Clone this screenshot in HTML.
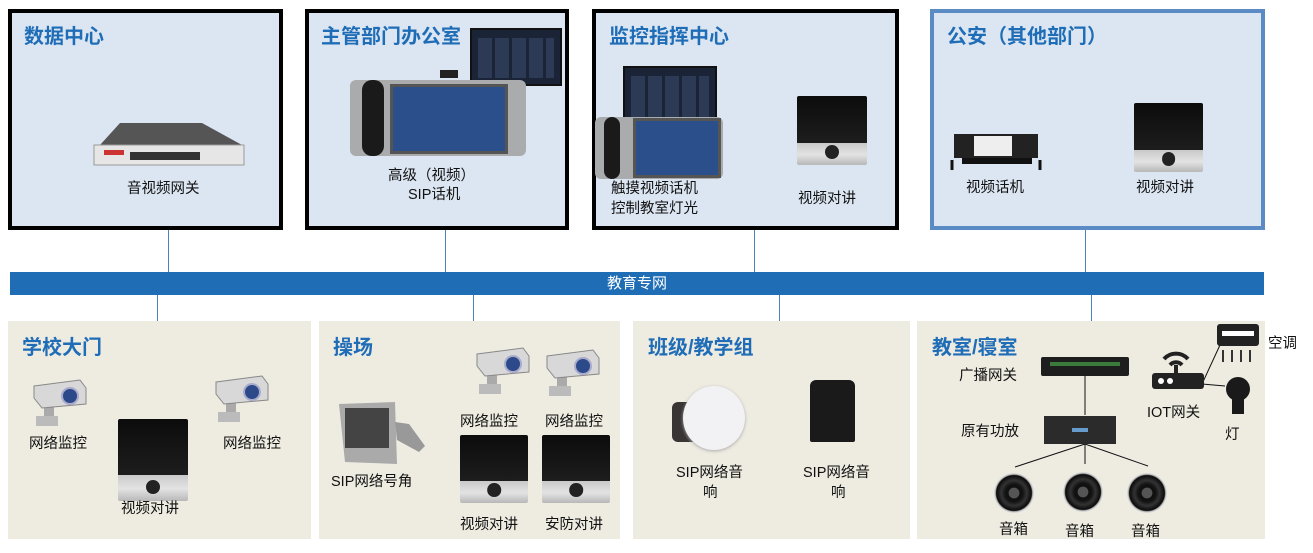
<!DOCTYPE html>
<html><head><meta charset="utf-8"><style>
body{margin:0;width:1313px;height:553px;background:#fff;position:relative;overflow:hidden;font-family:"Liberation Sans","Noto Sans CJK SC",sans-serif;}
.a{position:absolute;}
.tb{position:absolute;background:#dce6f2;border:4px solid #000;box-sizing:border-box;}
.bb{position:absolute;background:#eeebe1;}
.t{position:absolute;color:#1f6db7;font-weight:bold;font-size:20px;white-space:nowrap;}
.l{position:absolute;font-size:14.5px;color:#111;white-space:nowrap;line-height:18px;}
.v{position:absolute;width:1px;background:#4f81bd;}
.ic{position:absolute;border-radius:2px;background:linear-gradient(#0c0c0c 0,#1d1d1d 68%,#c9c9c9 68%,#e3e3e3 85%,#b8b8b8 100%);}
.ic:after{content:"";position:absolute;left:50%;bottom:9%;width:20%;aspect-ratio:1;transform:translateX(-50%);background:#222;border-radius:50%;}
.cam{position:absolute;width:58px;height:50px;}
.scr{position:absolute;background:#1b2436;border:2px solid #111;}
.scr:before{content:"";position:absolute;inset:8px 6px 6px 6px;background:repeating-linear-gradient(90deg,#2c3a55 0 14px,#1b2436 14px 17px);}
.phone{position:absolute;background:#a9abad;border-radius:6px;}
.phone .s{position:absolute;background:#2a4f8a;border:3px solid #555;}
.phone .h{position:absolute;background:#1a1a1a;border-radius:10px;}
.spk{position:absolute;width:40px;height:40px;border-radius:50%;background:radial-gradient(circle,#555 0 18%,#111 20% 30%,#333 45%,#0a0a0a 62%,#bbb 66%,#eee 72%,#999 100%);}
</style></head><body>

<div class="tb" style="left:8px;top:9px;width:275px;height:221px"></div>
<div class="tb" style="left:305px;top:9px;width:264px;height:221px"></div>
<div class="tb" style="left:592px;top:9px;width:307px;height:221px"></div>
<div class="tb" style="left:930px;top:9px;width:335px;height:221px;border-color:#5b8bc4"></div>

<div class="t" style="left:24px;top:20px">数据中心</div>
<div class="t" style="left:321px;top:20px">主管部门办公室</div>
<div class="t" style="left:609px;top:20px">监控指挥中心</div>
<div class="t" style="left:947px;top:20px">公安（其他部门）</div>

<svg class="a" style="left:90px;top:120px" width="160" height="50"><polygon points="10,25 30,3 112,3 152,25" fill="#555"/><rect x="4" y="25" width="150" height="20" fill="#e6e6e6" stroke="#999"/><rect x="40" y="32" width="70" height="8" fill="#333"/><rect x="14" y="30" width="20" height="5" fill="#c33"/></svg>
<div class="l" style="left:127px;top:180px">音视频网关</div>

<div class="scr" style="left:470px;top:28px;width:88px;height:54px"></div>
<div class="a" style="left:440px;top:70px;width:18px;height:8px;background:#222"></div>
<div class="phone" style="left:350px;top:80px;width:176px;height:76px"><div class="s" style="left:40px;top:4px;width:112px;height:64px"></div><div class="h" style="left:12px;top:0;width:22px;height:76px"></div></div>
<div class="l" style="left:388px;top:167px">高级（视频）</div>
<div class="l" style="left:408px;top:186px">SIP话机</div>

<div class="scr" style="left:623px;top:66px;width:90px;height:70px"></div>
<div class="phone" style="left:595px;top:117px;width:128px;height:62px"><div class="s" style="left:38px;top:1px;width:82px;height:54px"></div><div class="h" style="left:9px;top:0;width:16px;height:62px"></div></div>
<div class="l" style="left:611px;top:180px">触摸视频话机</div>
<div class="l" style="left:611px;top:200px">控制教室灯光</div>
<div class="ic" style="left:797px;top:96px;width:70px;height:69px"></div>
<div class="l" style="left:798px;top:190px">视频对讲</div>

<svg class="a" style="left:948px;top:130px" width="96" height="42"><rect x="6" y="4" width="84" height="24" fill="#222"/><rect x="26" y="6" width="38" height="20" fill="#eee"/><rect x="14" y="28" width="70" height="6" fill="#111"/><path d="M4 30 v10 M92 30 v10" stroke="#111" stroke-width="3"/></svg>
<div class="l" style="left:966px;top:179px">视频话机</div>
<div class="ic" style="left:1134px;top:103px;width:69px;height:69px"></div>
<div class="l" style="left:1136px;top:179px">视频对讲</div>

<div class="v" style="left:168px;top:230px;height:42px"></div>
<div class="v" style="left:445px;top:230px;height:42px"></div>
<div class="v" style="left:754px;top:230px;height:42px"></div>
<div class="v" style="left:1085px;top:230px;height:42px"></div>
<div class="a" style="left:10px;top:272px;width:1254px;height:23px;background:#1f6db5;color:#fff;font-size:15px;text-align:center;line-height:23px">教育专网</div>
<div class="v" style="left:157px;top:295px;height:26px"></div>
<div class="v" style="left:473px;top:295px;height:26px"></div>
<div class="v" style="left:779px;top:295px;height:26px"></div>
<div class="v" style="left:1091px;top:295px;height:26px"></div>

<div class="bb" style="left:8px;top:321px;width:303px;height:218px"></div>
<div class="bb" style="left:319px;top:321px;width:301px;height:218px"></div>
<div class="bb" style="left:633px;top:321px;width:277px;height:218px"></div>
<div class="bb" style="left:917px;top:321px;width:348px;height:218px"></div>

<div class="t" style="left:22px;top:331px">学校大门</div>
<div class="t" style="left:333px;top:331px">操场</div>
<div class="t" style="left:648px;top:331px">班级/教学组</div>
<div class="t" style="left:932px;top:331px">教室/寝室</div>

<svg width="0" height="0" style="position:absolute"><defs><g id="cm"><rect x="14" y="24" width="10" height="20" fill="#aaa"/><rect x="6" y="38" width="22" height="10" fill="#bbb"/><polygon points="4,8 50,2 56,10 56,26 12,30 4,20" fill="#d8d8d8" stroke="#888"/><circle cx="40" cy="18" r="8" fill="#2c4a8a" stroke="#aac" stroke-width="2"/></g></defs></svg>
<svg class="cam" style="left:30px;top:378px"><use href="#cm"/></svg>
<svg class="cam" style="left:212px;top:374px"><use href="#cm"/></svg>
<svg class="cam" style="left:473px;top:346px"><use href="#cm"/></svg>
<svg class="cam" style="left:543px;top:348px"><use href="#cm"/></svg>
<div class="l" style="left:29px;top:435px">网络监控</div>
<div class="l" style="left:223px;top:435px">网络监控</div>
<div class="ic" style="left:118px;top:419px;width:70px;height:82px"></div>
<div class="l" style="left:121px;top:500px">视频对讲</div>

<svg class="a" style="left:335px;top:400px" width="92" height="68"><polygon points="4,4 60,2 62,64 10,62" fill="#aaa"/><rect x="10" y="8" width="44" height="40" fill="#444"/><polygon points="60,22 74,24 90,46 84,52 62,40" fill="#999"/></svg>
<div class="l" style="left:331px;top:473px">SIP网络号角</div>
<div class="l" style="left:460px;top:413px">网络监控</div>
<div class="l" style="left:545px;top:413px">网络监控</div>
<div class="ic" style="left:460px;top:435px;width:68px;height:68px"></div>
<div class="ic" style="left:542px;top:435px;width:68px;height:68px"></div>
<div class="l" style="left:460px;top:516px">视频对讲</div>
<div class="l" style="left:545px;top:516px">安防对讲</div>

<div class="a" style="left:672px;top:402px;width:30px;height:40px;background:#3a3535;border-radius:6px"></div>
<div class="a" style="left:683px;top:386px;width:62px;height:64px;border-radius:50%;background:#f2f2f4;box-shadow:0 1px 3px #aaa"></div>
<div class="a" style="left:810px;top:380px;width:45px;height:62px;background:#1a1a1a;border-radius:6px 6px 2px 2px"></div>
<div class="l" style="left:676px;top:464px">SIP网络音</div>
<div class="l" style="left:703px;top:484px">响</div>
<div class="l" style="left:803px;top:464px">SIP网络音</div>
<div class="l" style="left:831px;top:484px">响</div>

<div class="a" style="left:1041px;top:357px;width:88px;height:19px;background:#1e1e1e;border-radius:2px"></div>
<div class="a" style="left:1050px;top:362px;width:70px;height:4px;background:#3a7a3a"></div>
<div class="l" style="left:959px;top:367px">广播网关</div>
<svg class="a" style="left:900px;top:300px" width="413" height="253">
<line x1="185" y1="76" x2="185" y2="115" stroke="#111" stroke-width="1"/>
<line x1="185" y1="144" x2="115" y2="167" stroke="#111"/><line x1="185" y1="144" x2="185" y2="164" stroke="#111"/><line x1="185" y1="144" x2="248" y2="166" stroke="#111"/>
<line x1="302" y1="84" x2="320" y2="45" stroke="#111"/><line x1="302" y1="84" x2="325" y2="86" stroke="#111"/>
</svg>
<div class="a" style="left:1044px;top:416px;width:72px;height:28px;background:#2b2b2b"></div>
<div class="a" style="left:1072px;top:428px;width:16px;height:4px;background:#69c"></div>
<div class="l" style="left:961px;top:423px">原有功放</div>
<div class="spk" style="left:994px;top:473px"></div>
<div class="spk" style="left:1063px;top:472px"></div>
<div class="spk" style="left:1127px;top:473px"></div>
<div class="l" style="left:999px;top:521px">音箱</div>
<div class="l" style="left:1065px;top:523px">音箱</div>
<div class="l" style="left:1131px;top:523px">音箱</div>
<svg class="a" style="left:1150px;top:345px" width="60" height="50"><path d="M14 14 a16 16 0 0 1 24 0" stroke="#222" stroke-width="4" fill="none"/><path d="M20 20 a8 8 0 0 1 12 0" stroke="#222" stroke-width="4" fill="none"/><rect x="24" y="20" width="4" height="12" fill="#222"/><rect x="2" y="28" width="52" height="16" rx="3" fill="#222"/><circle cx="11" cy="36" r="3" fill="#fff"/><circle cx="20" cy="36" r="3" fill="#fff"/></svg>
<div class="l" style="left:1147px;top:404px">IOT网关</div>
<svg class="a" style="left:1215px;top:322px" width="45" height="45"><rect x="2" y="2" width="42" height="22" rx="3" fill="#222"/><rect x="7" y="9" width="32" height="5" fill="#fff"/><path d="M8 28v12M17 28v12M26 28v12M35 28v12" stroke="#333" stroke-width="2"/></svg>
<div class="l" style="left:1268px;top:335px">空调</div>
<svg class="a" style="left:1224px;top:376px" width="30" height="46"><circle cx="14" cy="13" r="12" fill="#1a1a1a"/><rect x="8" y="22" width="12" height="16" fill="#1a1a1a"/></svg>
<div class="l" style="left:1225px;top:426px">灯</div>
</body></html>
